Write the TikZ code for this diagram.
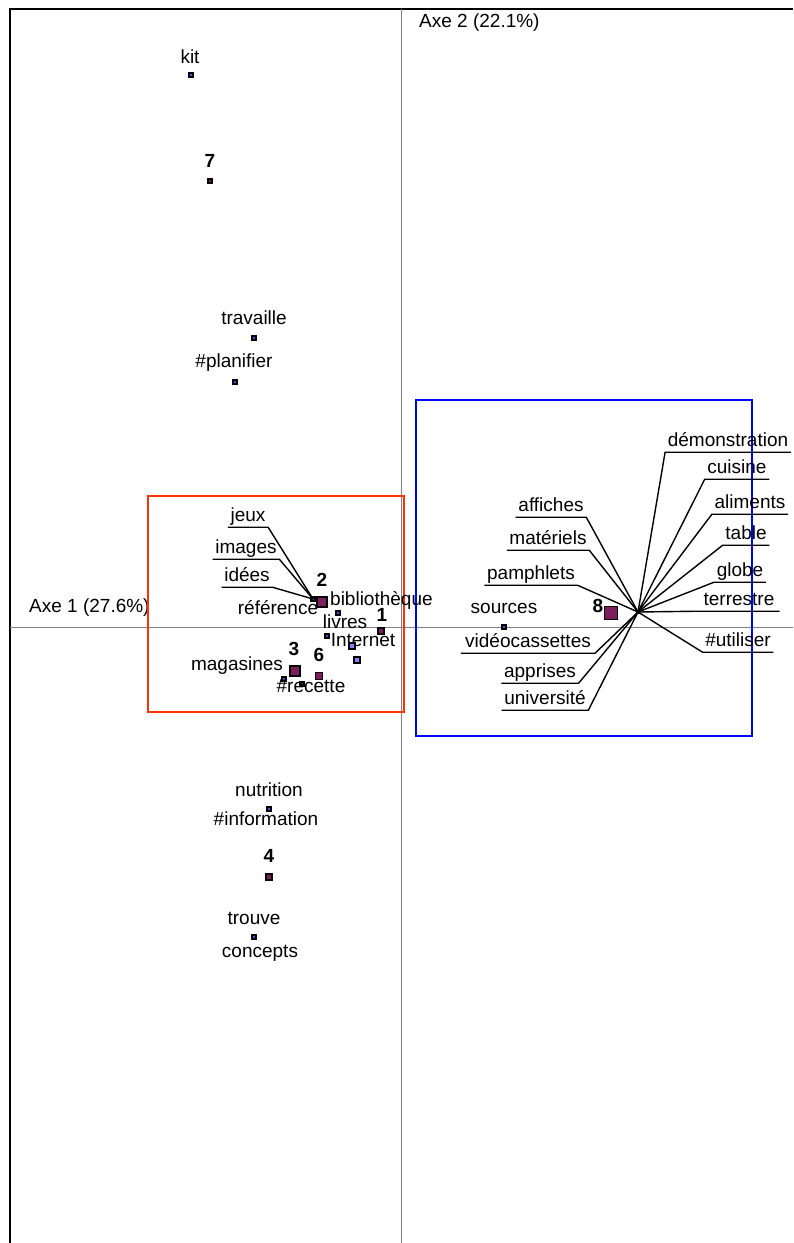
\documentclass[tikz,border=0pt]{standalone}
\usepackage{fontspec}
\setmainfont{Liberation Sans}
\definecolor{clusterfill}{RGB}{125,30,95}
\definecolor{ptblue}{RGB}{80,80,220}
\definecolor{bigblue}{RGB}{130,130,255}
\definecolor{redbox}{RGB}{255,50,10}
\definecolor{bluebox}{RGB}{0,0,255}
\definecolor{axisgray}{RGB}{128,128,128}
\begin{document}
\begin{tikzpicture}[x=1pt,y=-1pt,
  every node/.style={font=\fontsize{19}{22}\selectfont},
  lbl/.style={anchor=base, inner sep=0pt},
  ulbl/.style={anchor=base, inner sep=0pt, inner xsep=2.5pt, text height=14pt, text depth=6pt},
  num/.style={anchor=base, inner sep=0pt, font=\fontsize{19}{22}\selectfont\bfseries},
  wpt/.style={draw=black, fill=ptblue, line width=1.4pt, minimum size=4pt, inner sep=0pt},
  cpt/.style={draw=black, fill=clusterfill, line width=1.4pt, inner sep=0pt, minimum size=#1},
  bpt/.style={draw=black, fill=bigblue, line width=1.4pt, inner sep=0pt, minimum size=6pt},
  leader/.style={draw=black, line width=1.4pt},
  zone/.style={line width=1.6pt}
]
\useasboundingbox (0,0) rectangle (793,1243);

% frame and factor axes
\draw[line width=2pt] (10,1243) -- (10,9) -- (793,9);
\draw[axisgray, line width=0.9pt] (401,9) -- (401,1243);
\draw[axisgray, line width=0.9pt] (10,627) -- (793,627);
\node[lbl, anchor=base west] (ax1) at (29,612) {Axe 1 (27.6\%)};
\node[lbl, anchor=base west] (ax2) at (419,27) {Axe 2 (22.1\%)};

% cluster zones
\draw[zone, redbox] (148,496) rectangle (404,712);
\draw[zone, bluebox] (416,400) rectangle (752,736);

% ---- upper group
\node[wpt] (pkit) at (191,75) {};
\node[lbl] (tkit) at (190,63) {kit};
\node[cpt=4pt] (c7) at (210,181) {};
\node[num] (n7) at (210,167) {7};
\node[wpt] (ptrav) at (254,338) {};
\node[lbl] (ttrav) at (254,324) {travaille};
\node[wpt] (pplan) at (235,382) {};
\node[lbl] (tplan) at (234,367) {\#planifier};

% ---- left zone
\node[wpt] (hubL) at (313,599) {};
\node[ulbl] (tjeux) at (248,521) {jeux};
\node[ulbl] (timages) at (246,553) {images};
\node[ulbl] (tidees) at (247,581) {idées};
\foreach \t in {tjeux,timages,tidees}
  \draw[leader] (hubL.center) -- (\t.south east) -- (\t.south west);

\node[cpt=10pt] (c2) at (322,602) {};
\node[num] (n2) at (322,586) {2};
\node[lbl] (tref) at (278,614) {référence};
\node[wpt] (pbib) at (338,613) {};
\node[lbl, anchor=base west] (tbib) at (330,605) {bibliothèque};
\node[lbl] (tliv) at (345,628) {livres};
\node[cpt=6pt] (c1) at (381,631) {};
\node[num] (n1) at (382,621) {1};
\node[wpt] (pint) at (327,636) {};
\node[lbl] (tint) at (363,646) {Internet};
\node[bpt] (pb1) at (352,646) {};
\node[bpt] (pb2) at (357,660) {};
\node[cpt=10pt] (c3) at (295,671) {};
\node[num] (n3) at (294,655) {3};
\node[cpt=7pt] (c6) at (319,676) {};
\node[num] (n6) at (319,661) {6};
\node[lbl] (tmag) at (237,670) {magasines};
\node[wpt] (pmag) at (284,679) {};
\node[wpt] (prec) at (302,684) {};
\node[lbl] (trec) at (311,692) {\#recette};

% ---- right zone
\node[lbl] (tsrc) at (504,613) {sources};
\node[wpt] (psrc) at (504,627) {};
\node[cpt=13pt] (c8) at (611,613) {};
\node[num] (n8) at (598,612) {8};
\node[wpt, minimum size=3pt] (hubR) at (638,612) {};

\node[ulbl] (tdemo) at (728,446) {démonstration};
\node[ulbl] (tcuis) at (737,473) {cuisine};
\node[ulbl] (talim) at (750,508) {aliments};
\node[ulbl] (ttable) at (746,539) {table};
\node[ulbl] (tglobe) at (740,576) {globe};
\node[ulbl, inner xsep=5pt] (tterre) at (739,605) {terrestre};
\node[ulbl] (tutil) at (738,646) {\#utiliser};
\foreach \t in {tdemo,tcuis,talim,ttable,tglobe,tterre,tutil}
  \draw[leader] (hubR.center) -- (\t.south west) -- (\t.south east);

\node[ulbl] (taff) at (551,511) {affiches};
\node[ulbl] (tmat) at (548,544) {matériels};
\node[ulbl] (tpam) at (531,579) {pamphlets};
\node[ulbl, inner xsep=4pt] (tvid) at (528,647) {vidéocassettes};
\node[ulbl] (tapp) at (540,677) {apprises};
\node[ulbl] (tuniv) at (545,704) {université};
\foreach \t in {taff,tmat,tpam,tvid,tapp,tuniv}
  \draw[leader] (hubR.center) -- (\t.south east) -- (\t.south west);

% ---- lower group
\node[lbl] (tnut) at (269,796) {nutrition};
\node[wpt] (pnut) at (269,809) {};
\node[lbl] (tinfo) at (266,825) {\#information};
\node[cpt=6pt] (c4) at (269,877) {};
\node[num] (n4) at (269,862) {4};
\node[lbl] (ttrou) at (254,924) {trouve};
\node[wpt] (ptrou) at (254,937) {};
\node[lbl] (tconc) at (260,957) {concepts};
\end{tikzpicture}
\end{document}
